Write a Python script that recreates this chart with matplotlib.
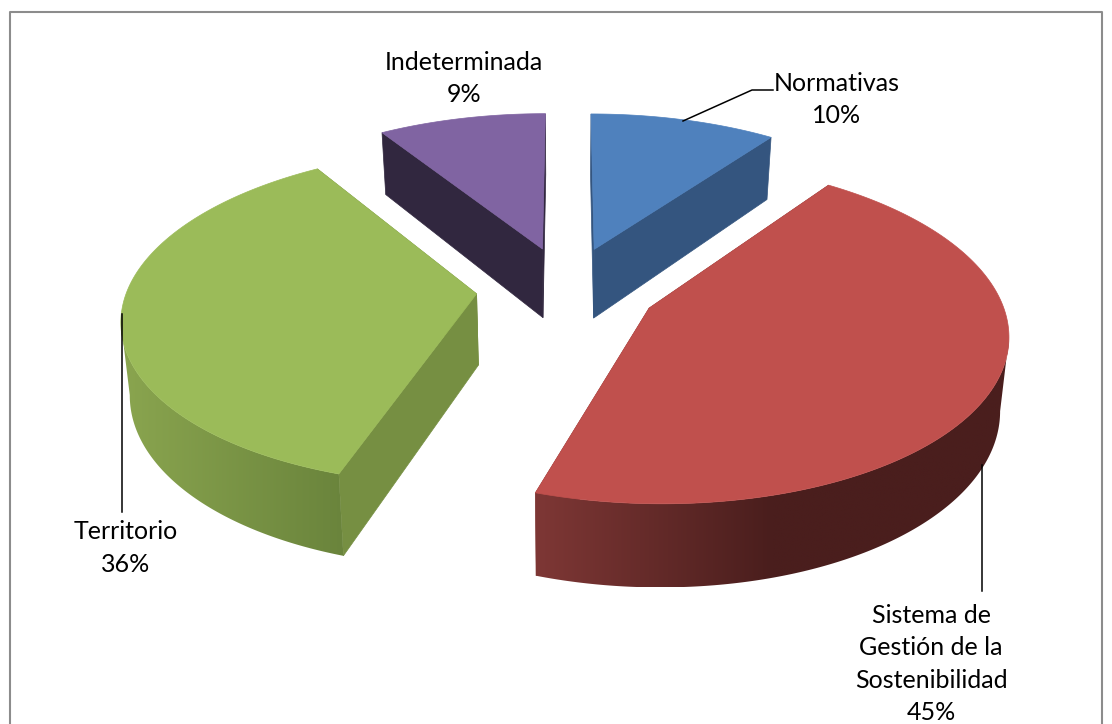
import numpy as np
import matplotlib
matplotlib.use('Agg')
import matplotlib.pyplot as plt
from matplotlib.colors import LinearSegmentedColormap
from matplotlib.patches import Polygon

plt.rcParams['font.family'] = ['Lato', 'DejaVu Sans']

labels = ['Normativas', 'Sistema de\nGestión de la\nSostenibilidad', 'Territorio', 'Indeterminada']
values = [10, 45, 36, 9]
percents = ['10%', '45%', '36%', '9%']

top_colors = ['#4f81bd', '#c0504d', '#9bbb59', '#8064a2']
cut_colors = ['#34557f', '#7e3735', '#768f42', '#31273f']
rim_left = ['#34557f', '#7e3735', '#8aa54f', '#31273f']
rim_right = ['#34557f', '#4a1e1d', '#6a843c', '#31273f']
rim_stop = [1, 0.5, 1, 1]

# projection of the pie disc onto the picture, in pixels
CX, CY = 567, 288.5
A, B = 349, 163.5
PERSP = 0.135
EXPLODE = 0.26
HEIGHT = 71
SHRINK = 0.98


def project(u, v, down=False):
    s = 1 / (1 + PERSP * v)
    x = A * u * s
    y = CY - B * v * s
    if down:
        x = x * SHRINK
        y = y + HEIGHT * s
    return CX + x, y


def draw_slice(ax, i, start, stop):
    mid = np.radians((start + stop) / 2)
    ou, ov = EXPLODE * np.sin(mid), EXPLODE * np.cos(mid)
    th = np.radians(np.linspace(start, stop, 240))
    u = ou + np.sin(th)
    v = ov + np.cos(th)
    x, y = project(u, v)
    xb, yb = project(u, v, down=True)
    ax_, ay_ = project(ou, ov)
    axb, ayb = project(ou, ov, down=True)

    # cut faces
    for k in (0, -1):
        ax.add_patch(Polygon([(ax_, ay_), (x[k], y[k]), (xb[k], yb[k]), (axb, ayb)],
                             closed=True, fc=cut_colors[i], ec=cut_colors[i], lw=0.5, zorder=1))
    # outer rim, only the part that faces the viewer, as one smooth gradient
    front = np.where(np.diff(x) < 0)[0]
    if len(front):
        j0, j1 = front[0], front[-1] + 1
        rim = np.column_stack([np.r_[x[j0:j1 + 1], xb[j0:j1 + 1][::-1]],
                               np.r_[y[j0:j1 + 1], yb[j0:j1 + 1][::-1]]])
        x0, x1 = rim[:, 0].min(), rim[:, 0].max()
        y0, y1 = rim[:, 1].min(), rim[:, 1].max()
        cmap = LinearSegmentedColormap.from_list('rim', [(0, rim_left[i]), (rim_stop[i], rim_right[i]), (1, rim_right[i])])
        patch = Polygon(rim, closed=True, fc='none', ec='none')
        ax.add_patch(patch)
        img = ax.imshow(np.linspace(0, 1, 256).reshape(1, -1), cmap=cmap, aspect='auto',
                        extent=(x0, x1, y1, y0), interpolation='bilinear', zorder=2)
        img.set_clip_path(patch)
    # top face
    ax.add_patch(Polygon(np.column_stack([np.r_[ax_, x], np.r_[ay_, y]]), closed=True,
                         fc=top_colors[i], ec=top_colors[i], lw=0.5, zorder=3))


fig = plt.figure(figsize=(11.12, 7.24), dpi=100)
ax = fig.add_axes([0, 0, 1, 1])

# chart frame, runs off the bottom of the picture
ax.plot([9.5, 9.5, 1102, 1102], [730, 12, 12, 730], color='#8c8c8c', lw=1.5)

angles = np.cumsum([0] + values) / np.sum(values) * 360
for i in [3, 0, 2, 1]:
    draw_slice(ax, i, angles[i], angles[i + 1])

ax.set_xlim(0, 1112)
ax.set_ylim(724, 0)
ax.axis('off')

# leader lines
ax.plot([773, 752, 683], [90, 90, 121], color='black', lw=1.1, zorder=4)
ax.plot([122, 122], [314, 512], color='black', lw=1.1, zorder=4)
ax.plot([982, 982], [465, 591], color='black', lw=1.1, zorder=4)

label_pos = [(837, 99.5), (931, 664), (126, 548), (464, 78.5)]
for name, pct, (lx, ly) in zip(labels, percents, label_pos):
    ax.text(lx, ly, name + '\n' + pct, ha='center', va='center', fontsize=18,
            color='black', linespacing=1.49, multialignment='center')

plt.savefig('out.png', dpi=100)
plt.close()
